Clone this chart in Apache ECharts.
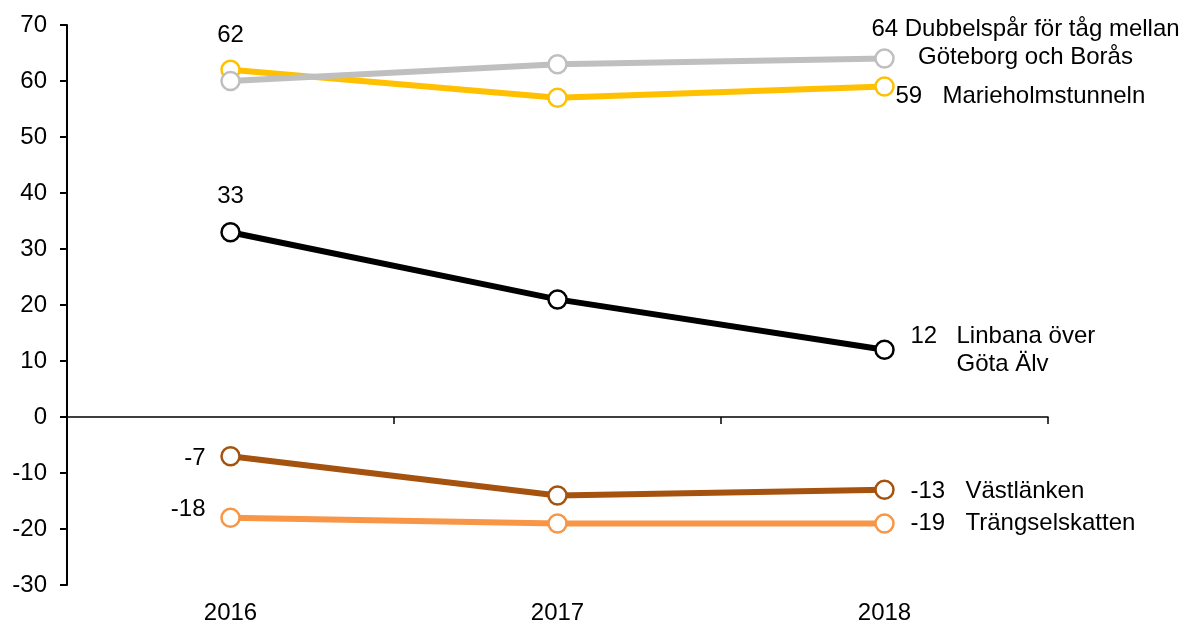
<!DOCTYPE html>
<html>
<head>
<meta charset="utf-8">
<script src="https://cdn.jsdelivr.net/npm/echarts@6/dist/echarts.min.js"></script>
<style>
html,body{margin:0;padding:0;background:#fff;}
#chart{width:1184px;height:625px;}
</style>
</head>
<body>
<div id="chart"></div>
<script>
const years = ['2016', '2017', '2018'];
const yTicks = { min: -30, max: 70, interval: 10 };

const dubbelspar = [60, 63, 64];
const marieholm = [62, 57, 59];
const linbana = [33, 21, 12];
const vastlanken = [-7, -14, -13];
const trangsel = [-18, -19, -19];

const nameDubbelspar = ['Dubbelspår för tåg mellan', 'Göteborg och Borås'];
const nameMarieholm = 'Marieholmstunneln';
const nameLinbana = ['Linbana över', 'Göta Älv'];
const nameVastlanken = 'Västlänken';
const nameTrangsel = 'Trängselskatten';

const FONT = 'Liberation Sans, Arial, sans-serif';
const FS = 24;
const baseLabel = { show: true, position: 'inside', color: '#000', fontFamily: FONT, fontSize: FS };
const tok = (extra) => Object.assign({ fontSize: FS, fontFamily: FONT, color: '#000' }, extra || {});

function pt(v, label) {
  return label ? { value: v, label: Object.assign({}, baseLabel, label) } : { value: v, label: { show: false } };
}

function makeSeries(name, color, values, labels, z) {
  return {
    name: name,
    type: 'line',
    xAxisIndex: 0,
    z: z,
    data: values.map((v, i) => pt(v, labels[i])),
    lineStyle: { color: color, width: 6 },
    itemStyle: { color: '#fff', borderColor: color, borderWidth: 2.5 },
    symbol: 'circle',
    symbolSize: 18,
    showSymbol: true,
    animation: false,
    emphasis: { disabled: true }
  };
}

const series = [
  makeSeries('Marieholmstunneln', '#FFC000', marieholm, [
    { formatter: String(marieholm[0]), align: 'center', offset: [0, -34] },
    null,
    { formatter: '{n|' + marieholm[2] + '}{t|' + nameMarieholm + '}', align: 'left', offset: [11, 10],
      rich: { n: tok({ width: 47 }), t: tok() } }
  ], 3),
  makeSeries('Dubbelspår', '#BFBFBF', dubbelspar, [
    null, null,
    { formatter: dubbelspar[2] + ' ' + nameDubbelspar[0] + '\n' + nameDubbelspar[1], align: 'center', lineHeight: 28, offset: [141, -15] }
  ], 4),
  makeSeries('Linbana', '#000000', linbana, [
    { formatter: String(linbana[0]), align: 'center', offset: [0, -36] },
    null,
    { formatter: '{n|' + linbana[2] + '}{t|' + nameLinbana[0] + '}\n{g|' + nameLinbana[1] + '}', align: 'left', offset: [26, 1],
      rich: { n: tok({ width: 46, lineHeight: 28 }), t: tok({ lineHeight: 28 }), g: tok({ lineHeight: 28, padding: [0, 0, 0, 46] }) } }
  ], 5),
  makeSeries('Västlänken', '#A5520F', vastlanken, [
    { formatter: String(vastlanken[0]), align: 'right', offset: [-25, 2] },
    null,
    { formatter: '{n|' + vastlanken[2] + '}{t|' + nameVastlanken + '}', align: 'left', offset: [26, 2],
      rich: { n: tok({ width: 55 }), t: tok() } }
  ], 6),
  makeSeries('Trängselskatten', '#F79646', trangsel, [
    { formatter: String(trangsel[0]), align: 'right', offset: [-25, -8] },
    null,
    { formatter: '{n|' + trangsel[2] + '}{t|' + nameTrangsel + '}', align: 'left', offset: [26, 0],
      rich: { n: tok({ width: 55 }), t: tok() } }
  ], 7)
];

const chart = echarts.init(document.getElementById('chart'), null, { renderer: 'canvas' });
chart.setOption({
  animation: false,
  backgroundColor: '#fff',
  textStyle: { fontFamily: FONT },
  grid: { left: 67, right: 136, top: 25, bottom: 40, containLabel: false },
  xAxis: [
    {
      type: 'category', data: years, boundaryGap: true, position: 'bottom',
      axisLine: { show: false, onZero: false },
      axisTick: { show: false },
      axisLabel: { color: '#000', fontSize: FS, fontFamily: FONT, margin: 16 },
      splitLine: { show: false }
    },
    {
      type: 'category', data: years, boundaryGap: true, position: 'bottom',
      axisLine: { show: true, onZero: true, lineStyle: { color: '#000', width: 1.5 } },
      axisTick: { show: true, inside: false, length: 7, lineStyle: { color: '#000', width: 1.5 } },
      axisLabel: { show: false },
      splitLine: { show: false }
    }
  ],
  yAxis: {
    type: 'value', min: yTicks.min, max: yTicks.max, interval: yTicks.interval,
    axisLine: { show: true, onZero: false, lineStyle: { color: '#000', width: 2 } },
    axisTick: { show: true, length: 7, lineStyle: { color: '#000', width: 2 } },
    axisLabel: { color: '#000', fontSize: FS, fontFamily: FONT, margin: 20 },
    splitLine: { show: false }
  },
  series: series
});
</script>
</body>
</html>
